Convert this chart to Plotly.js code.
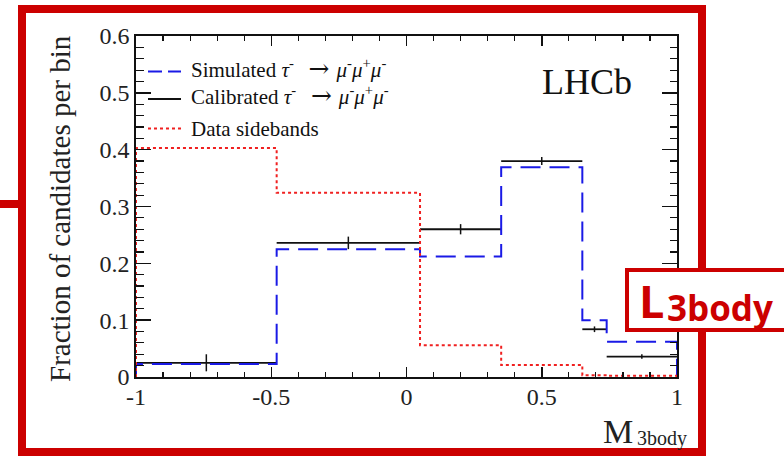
<!DOCTYPE html>
<html>
<head>
<meta charset="utf-8">
<script src="https://cdn.plot.ly/plotly-3.0.1.min.js"></script>
<style>html,body{margin:0;padding:0;background:#fff;}#plot{width:784px;height:457px;}</style>
</head>
<body>
<div id="plot"></div>
<script>
// ---- data ----
var binEdges = [-1, -0.48, 0.05, 0.35, 0.65, 0.74, 1];
var simulated = [0.023, 0.225, 0.212, 0.369, 0.100, 0.062];
var calibrated = [0.025, 0.236, 0.260, 0.380, 0.084, 0.036];
var calibratedErr = [0.015, 0.011, 0.009, 0.007, 0.005, 0.004];
var sidebands = [0.403, 0.324, 0.056, 0.021, 0.003, 0.002];
var seriesNames = ['Simulated', 'Calibrated', 'Data sidebands'];
var xTickVals = [-1, -0.5, 0, 0.5, 1];
var xTickText = ['-1', '-0.5', '0', '0.5', '1'];
var yTickVals = [0, 0.1, 0.2, 0.3, 0.4, 0.5, 0.6];
var yTickText = ['0', '0.1', '0.2', '0.3', '0.4', '0.5', '0.6'];

function stepXY(edges, vals) {
  var x = [edges[0]], y = [0];
  for (var i = 0; i < vals.length; i++) { x.push(edges[i]); y.push(vals[i]); }
  x.push(edges[edges.length - 1]); y.push(vals[vals.length - 1]);
  x.push(edges[edges.length - 1]); y.push(0);
  return {x: x, y: y};
}
function segXY(edges, vals) {
  var x = [], y = [];
  for (var i = 0; i < vals.length; i++) {
    x.push(edges[i], edges[i + 1], null);
    y.push(vals[i], vals[i], null);
  }
  return {x: x, y: y};
}
var centers = [];
for (var i = 0; i < binEdges.length - 1; i++) centers.push((binEdges[i] + binEdges[i + 1]) / 2);

var simStep = stepXY(binEdges, simulated);
var sideStep = stepXY(binEdges, sidebands);
var calSeg = segXY(binEdges, calibrated);

var blue = '#1a1ae6', black = '#111', redLine = '#f02020';
var blueDash = '20px,9px', redDot = '3px,3px';

var decay = ' <i>τ</i><sup>-</sup>' + '\u2002\u2009' +
  '<span style="font-family:DejaVu Serif;font-size:25px">→</span>' + '\u2004' +
  '<i>μ</i><sup>-</sup><i>μ</i><sup>+</sup><i>μ</i><sup>-</sup>';

var traces = [
  {x: calSeg.x, y: calSeg.y, mode: 'lines', name: seriesNames[1], showlegend: false,
   line: {color: black, width: 1.8}, connectgaps: false},
  {x: centers, y: calibrated, mode: 'markers', showlegend: false,
   marker: {size: 1, color: 'rgba(0,0,0,0)'},
   error_y: {type: 'data', array: calibratedErr, visible: true, color: black, thickness: 1.5, width: 0}},
  {x: simStep.x, y: simStep.y, mode: 'lines', name: seriesNames[0], showlegend: false,
   line: {shape: 'hv', color: blue, width: 2, dash: blueDash}},
  {x: sideStep.x, y: sideStep.y, mode: 'lines', name: seriesNames[2], showlegend: false,
   line: {shape: 'hv', color: redLine, width: 2, dash: redDot}}
];

function px(X) { return (X - 136) / 541; }
function py(Y) { return (377 - Y) / 341; }
var red = '#cc0000';
var serif = 'Liberation Serif';

// manual legend (ROOT-style)
var legRows = [71.5, 99, 128.5];
var legShiftSup = 3;
var legShapes = [
  {type: 'line', xref: 'paper', yref: 'paper', x0: px(148), x1: px(181), y0: py(legRows[0]), y1: py(legRows[0]),
   line: {color: blue, width: 2, dash: '14px,6px'}},
  {type: 'line', xref: 'paper', yref: 'paper', x0: px(148), x1: px(181), y0: py(legRows[1]), y1: py(legRows[1]),
   line: {color: black, width: 1.8}},
  {type: 'line', xref: 'paper', yref: 'paper', x0: px(148), x1: px(181), y0: py(legRows[2]), y1: py(legRows[2]),
   line: {color: redLine, width: 2, dash: redDot}}
];
var legAnn = [
  {text: seriesNames[0] + decay, y: legRows[0] - legShiftSup},
  {text: seriesNames[1] + decay, y: legRows[1] - legShiftSup},
  {text: seriesNames[2], y: legRows[2]}
].map(function (r) {
  return {xref: 'paper', yref: 'paper', x: px(189), y: py(r.y), text: r.text, showarrow: false,
          xanchor: 'left', yanchor: 'middle', font: {family: serif, size: 21, color: '#111'}};
});

var layout = {
  width: 784, height: 457,
  margin: {l: 136, r: 107, t: 36, b: 80},
  paper_bgcolor: '#fff', plot_bgcolor: '#fff',
  showlegend: false,
  xaxis: {range: [-1, 1], tickmode: 'array', tickvals: xTickVals, ticktext: xTickText,
          ticks: 'inside', ticklen: 10, tickwidth: 1.5, tickcolor: '#111',
          showline: true, linewidth: 1.8, linecolor: '#111', mirror: 'ticks',
          showgrid: false, zeroline: false, ticklabelstandoff: -3,
          minor: {tickmode: 'linear', tick0: -1, dtick: 0.1, ticks: 'inside', ticklen: 5, tickwidth: 1.2, tickcolor: '#111', showgrid: false},
          tickfont: {family: serif, size: 24, color: '#222'}, fixedrange: true},
  yaxis: {range: [0, 0.6], tickmode: 'array', tickvals: yTickVals, ticktext: yTickText,
          ticks: 'inside', ticklen: 15, tickwidth: 1.5, tickcolor: '#111',
          showline: true, linewidth: 1.8, linecolor: '#111', mirror: 'ticks',
          showgrid: false, zeroline: false,
          minor: {tickmode: 'linear', tick0: 0, dtick: 0.02, ticks: 'inside', ticklen: 7.5, tickwidth: 1.2, tickcolor: '#111', showgrid: false},
          tickfont: {family: serif, size: 24, color: '#222'}, fixedrange: true},
  shapes: [
    {type: 'rect', xref: 'paper', yref: 'paper', x0: px(22), x1: px(702), y0: py(452), y1: py(9),
     line: {color: red, width: 8}, fillcolor: 'rgba(0,0,0,0)', layer: 'above'},
    {type: 'line', xref: 'paper', yref: 'paper', x0: px(-5), x1: px(22), y0: py(204), y1: py(204),
     line: {color: red, width: 8}, layer: 'above'},
    {type: 'rect', xref: 'paper', yref: 'paper', x0: px(627), x1: px(800), y0: py(330), y1: py(270),
     line: {color: red, width: 4}, fillcolor: '#fff', layer: 'above'}
  ].concat(legShapes),
  annotations: [
    {xref: 'paper', yref: 'paper', x: px(60), y: py(209), text: 'Fraction of candidates per bin',
     textangle: -90, showarrow: false, xanchor: 'center', yanchor: 'middle',
     font: {family: serif, size: 29, color: '#222'}},
    {xref: 'paper', yref: 'paper', x: px(587), y: py(82), text: 'LHCb', showarrow: false,
     xanchor: 'center', yanchor: 'middle', font: {family: serif, size: 36, color: '#111'}},
    {xref: 'paper', yref: 'paper', x: px(618), y: py(431), text: 'M', showarrow: false,
     xanchor: 'center', yanchor: 'middle', font: {family: serif, size: 34, color: '#222'}},
    {xref: 'paper', yref: 'paper', x: px(662), y: py(438), text: '3body', showarrow: false,
     xanchor: 'center', yanchor: 'middle', font: {family: serif, size: 20, color: '#222'}},
    {xref: 'paper', yref: 'paper', x: px(651), y: py(300), text: '<b>L</b>', showarrow: false,
     xanchor: 'center', yanchor: 'middle', font: {family: 'Open Sans', size: 45, color: red}},
    {xref: 'paper', yref: 'paper', x: px(720), y: py(307), text: '<b>3body</b>', showarrow: false,
     xanchor: 'center', yanchor: 'middle', font: {family: 'Open Sans', size: 35, color: red}}
  ].concat(legAnn)
};

Plotly.newPlot('plot', traces, layout, {displayModeBar: false, staticPlot: true});
</script>
</body>
</html>
